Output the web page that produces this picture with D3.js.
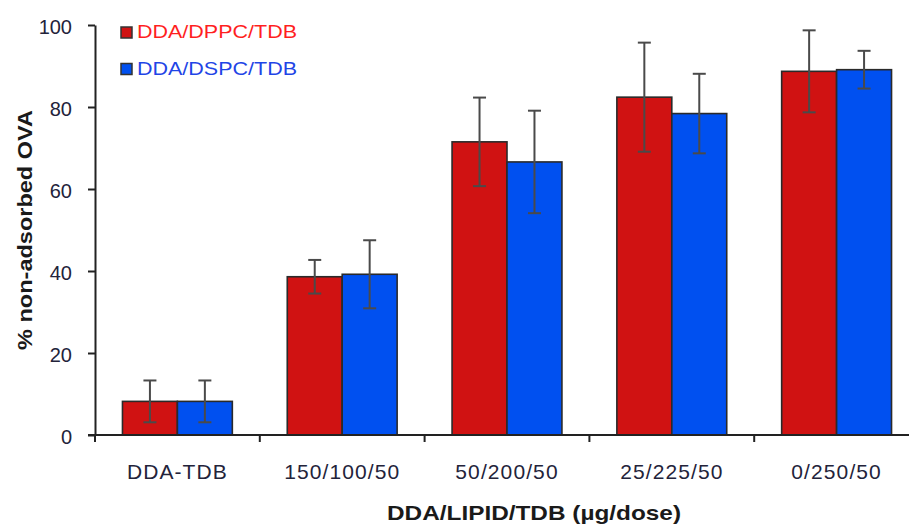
<!DOCTYPE html>
<html>
<head>
<meta charset="utf-8">
<script src="https://cdn.jsdelivr.net/npm/d3@7"></script>
<style>
  html, body { margin: 0; padding: 0; background: #fff; }
  svg { display: block; font-family: "Liberation Sans", Arial, sans-serif; }
</style>
</head>
<body>
<svg id="chart" width="909" height="525"></svg>
<script>
// Formulations (DDA/LIPID/TDB, µg/dose)
const categories = ["DDA-TDB", "150/100/50", "50/200/50", "25/225/50", "0/250/50"];
const seriesNames = ["DDA/DPPC/TDB", "DDA/DSPC/TDB"];
// % non-adsorbed OVA, mean and SD per series
const dppcMean = [8.2, 38.6, 71.5, 82.4, 88.7];
const dppcSD   = [5.1, 4.1, 10.8, 13.3, 10.0];
const dspcMean = [8.2, 39.2, 66.6, 78.4, 89.1];
const dspcSD   = [5.1, 8.3, 12.5, 9.7, 4.6];
const yTicks = [0, 20, 40, 60, 80, 100];

const barColors = ["#d01212", "#0050f0"];
const legendText = ["#ff1f1f", "#1f45e6"];

const svg = d3.select("#chart");
const plotLeft = 95, bandStep = 164.8, plotBottom = 435, plotTop = 25;

const x0 = d3.scaleBand().domain(categories)
  .range([plotLeft, plotLeft + bandStep * categories.length]).padding(0);
const x1 = d3.scaleBand().domain(seriesNames)
  .range([0, x0.bandwidth()]).paddingInner(0).paddingOuter(0.5);
const y = d3.scaleLinear().domain([0, 100]).range([plotBottom, plotTop]);

const rows = categories.map((c, i) => ({
  cat: c,
  vals: [
    { s: seriesNames[0], m: dppcMean[i], sd: dppcSD[i], k: 0 },
    { s: seriesNames[1], m: dspcMean[i], sd: dspcSD[i], k: 1 }
  ]
}));

// Bars
const groups = svg.append("g").selectAll("g").data(rows).join("g")
  .attr("transform", d => `translate(${x0(d.cat)},0)`);
groups.selectAll("rect").data(d => d.vals).join("rect")
  .attr("x", d => x1(d.s))
  .attr("y", d => y(d.m))
  .attr("width", x1.bandwidth())
  .attr("height", d => y(0) - y(d.m))
  .attr("fill", d => barColors[d.k])
  .attr("stroke", "#2a2a2a")
  .attr("stroke-width", 1.6);

// Error bars
const cx = d => x1(d.s) + x1.bandwidth() / 2;
const eb = groups.selectAll("g.err").data(d => d.vals).join("g").attr("class", "err")
  .attr("stroke", "#4a4a4a").attr("stroke-width", 2);
eb.append("line")
  .attr("x1", cx).attr("x2", cx)
  .attr("y1", d => y(d.m + d.sd)).attr("y2", d => y(d.m - d.sd));
eb.append("line")
  .attr("x1", d => cx(d) - 6.5).attr("x2", d => cx(d) + 6.5)
  .attr("y1", d => y(d.m + d.sd)).attr("y2", d => y(d.m + d.sd));
eb.append("line")
  .attr("x1", d => cx(d) - 6.5).attr("x2", d => cx(d) + 6.5)
  .attr("y1", d => y(d.m - d.sd)).attr("y2", d => y(d.m - d.sd));

// Y axis
const yAxis = svg.append("g").attr("transform", `translate(${plotLeft},0)`)
  .call(d3.axisLeft(y).tickValues(yTicks).tickSizeInner(7).tickSizeOuter(0).tickPadding(16));
yAxis.select(".domain").attr("stroke", "#222").attr("stroke-width", 2);
yAxis.selectAll(".tick line").attr("stroke", "#222").attr("stroke-width", 2);
yAxis.selectAll(".tick text").attr("font-size", 20).attr("fill", "#23233a")
  .attr("dy", "0.4em")
  .attr("font-family", "Liberation Sans, Arial, sans-serif");

// X axis: labels centred in each band, ticks on band boundaries
const xAxis = svg.append("g").attr("transform", `translate(0,${plotBottom})`)
  .call(d3.axisBottom(x0).tickSize(0).tickPadding(29));
xAxis.select(".domain").remove();
xAxis.selectAll(".tick text").attr("font-size", 21).attr("fill", "#23233a")
  .attr("letter-spacing", "1.1px")
  .attr("font-family", "Liberation Sans, Arial, sans-serif");
xAxis.append("line").attr("x1", plotLeft - 7).attr("x2", 909).attr("y1", 0).attr("y2", 0)
  .attr("stroke", "#222").attr("stroke-width", 2);
xAxis.selectAll("line.bound").data(categories.concat([null])).join("line").attr("class", "bound")
  .attr("x1", (d, i) => plotLeft + i * x0.step()).attr("x2", (d, i) => plotLeft + i * x0.step())
  .attr("y1", 0).attr("y2", 7).attr("stroke", "#222").attr("stroke-width", 2);

// Axis titles
svg.append("text")
  .attr("x", 534).attr("y", 520).attr("text-anchor", "middle")
  .attr("font-size", 21).attr("font-weight", "bold").attr("fill", "#1a1a1a")
  .attr("textLength", 294).attr("lengthAdjust", "spacingAndGlyphs")
  .text("DDA/LIPID/TDB (µg/dose)");
svg.append("text")
  .attr("transform", "translate(32,230) rotate(-90)").attr("text-anchor", "middle")
  .attr("font-size", 20).attr("font-weight", "bold").attr("fill", "#1a1a1a")
  .attr("textLength", 240).attr("lengthAdjust", "spacingAndGlyphs")
  .text("% non-adsorbed OVA");

// Legend
const legend = svg.append("g").selectAll("g").data(seriesNames).join("g")
  .attr("transform", (d, i) => `translate(121,${38 + i * 36.5})`);
legend.append("rect").attr("x", 0).attr("y", -11).attr("width", 11).attr("height", 11)
  .attr("fill", (d, i) => barColors[i]).attr("stroke", "#333").attr("stroke-width", 1.5);
legend.append("text").attr("x", 16).attr("y", 0)
  .attr("font-size", 19).attr("fill", (d, i) => legendText[i])
  .attr("textLength", 160).attr("lengthAdjust", "spacingAndGlyphs")
  .text(d => d);
</script>
</body>
</html>
